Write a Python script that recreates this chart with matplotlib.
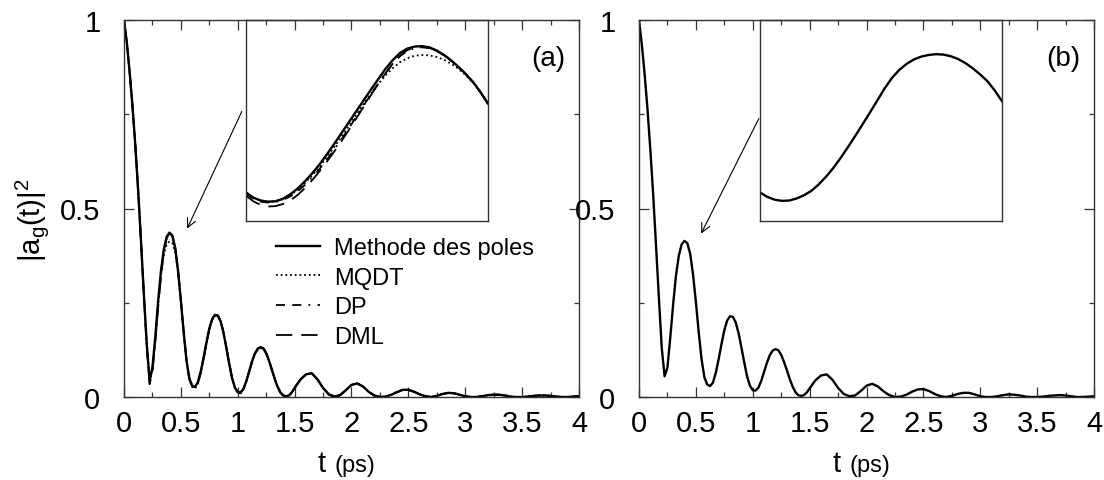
import numpy as np
import matplotlib
matplotlib.use('Agg')
import matplotlib.pyplot as plt
from matplotlib.ticker import MultipleLocator, FixedLocator, FixedFormatter

plt.rcParams['font.family'] = ['Liberation Sans', 'DejaVu Sans']
plt.rcParams['mathtext.default'] = 'regular'

# time grids (ps)
T_HEAD = np.round(np.arange(0, 1.5001, 0.025), 3)
T_TAIL = np.round(np.arange(1.55, 4.0001, 0.05), 3)
T_INSET = np.round(np.arange(0.19, 0.5201, 0.01), 3)

# panel (a), main curves, t <= 1.5
POLES_A_HEAD = [1.000, 0.940, 0.860, 0.770, 0.665, 0.545, 0.410, 0.270, 0.140, 0.044,
                0.078, 0.160, 0.255, 0.335, 0.392, 0.425, 0.436, 0.428, 0.395, 0.335,
                0.255, 0.170, 0.095, 0.048, 0.030, 0.027, 0.040, 0.068, 0.105, 0.145,
                0.182, 0.207, 0.218, 0.216, 0.200, 0.170, 0.130, 0.088, 0.050, 0.025,
                0.013, 0.012, 0.022, 0.042, 0.068, 0.094, 0.115, 0.128, 0.132, 0.129,
                0.116, 0.096, 0.072, 0.048, 0.027, 0.012, 0.004, 0.002, 0.004, 0.012,
                0.024]
MQDT_A_HEAD = [1.000, 0.940, 0.860, 0.770, 0.665, 0.545, 0.410, 0.270, 0.138, 0.036,
               0.072, 0.150, 0.243, 0.322, 0.377, 0.405, 0.413, 0.408, 0.385, 0.332,
               0.255, 0.170, 0.095, 0.046, 0.026, 0.022, 0.036, 0.064, 0.101, 0.141,
               0.178, 0.204, 0.215, 0.214, 0.199, 0.170, 0.130, 0.088, 0.050, 0.024,
               0.011, 0.010, 0.020, 0.040, 0.066, 0.092, 0.113, 0.126, 0.130, 0.128,
               0.116, 0.096, 0.072, 0.048, 0.027, 0.012, 0.004, 0.002, 0.004, 0.012,
               0.024]
DP_A_HEAD = [1.000, 0.940, 0.860, 0.770, 0.665, 0.545, 0.410, 0.270, 0.140, 0.040,
             0.072, 0.150, 0.242, 0.325, 0.386, 0.422, 0.434, 0.428, 0.396, 0.337,
             0.257, 0.172, 0.097, 0.048, 0.029, 0.026, 0.038, 0.066, 0.103, 0.143,
             0.180, 0.206, 0.218, 0.216, 0.201, 0.171, 0.131, 0.089, 0.051, 0.025,
             0.013, 0.012, 0.021, 0.041, 0.067, 0.093, 0.114, 0.127, 0.132, 0.129,
             0.117, 0.097, 0.073, 0.049, 0.028, 0.012, 0.004, 0.002, 0.004, 0.012,
             0.024]
DML_A_HEAD = [1.000, 0.940, 0.860, 0.770, 0.665, 0.545, 0.410, 0.270, 0.136, 0.034,
              0.066, 0.145, 0.238, 0.322, 0.384, 0.421, 0.435, 0.429, 0.397, 0.338,
              0.258, 0.173, 0.097, 0.047, 0.027, 0.024, 0.037, 0.065, 0.102, 0.143,
              0.180, 0.206, 0.218, 0.217, 0.201, 0.172, 0.132, 0.090, 0.051, 0.025,
              0.012, 0.011, 0.021, 0.041, 0.067, 0.093, 0.114, 0.127, 0.132, 0.129,
              0.117, 0.097, 0.073, 0.049, 0.028, 0.012, 0.004, 0.002, 0.004, 0.012,
              0.024]
# panel (a), t > 1.5 (all four methods coincide)
TAIL_A = [0.046, 0.060, 0.063, 0.047, 0.024, 0.007, 0.001, 0.005, 0.018, 0.032,
          0.036, 0.028, 0.014, 0.004, 0.000, 0.001, 0.006, 0.013, 0.019, 0.019,
          0.014, 0.007, 0.002, 0.000, 0.003, 0.008, 0.011, 0.010, 0.006, 0.002,
          0.000, 0.000, 0.002, 0.005, 0.006, 0.006, 0.004, 0.001, 0.000, 0.000,
          0.001, 0.003, 0.004, 0.004, 0.003, 0.001, 0.000, 0.000, 0.001, 0.002]

# panel (b), main curve
POLES_B_HEAD = [1.000, 0.935, 0.855, 0.762, 0.655, 0.535, 0.400, 0.262, 0.130, 0.055,
                0.078, 0.158, 0.245, 0.322, 0.375, 0.405, 0.414, 0.408, 0.380, 0.325,
                0.252, 0.172, 0.100, 0.052, 0.033, 0.029, 0.038, 0.064, 0.100, 0.140,
                0.177, 0.203, 0.214, 0.213, 0.198, 0.170, 0.132, 0.092, 0.055, 0.030,
                0.018, 0.017, 0.025, 0.043, 0.067, 0.091, 0.111, 0.123, 0.127, 0.124,
                0.112, 0.093, 0.071, 0.048, 0.028, 0.013, 0.005, 0.003, 0.005, 0.012,
                0.023]
TAIL_B = [0.044, 0.057, 0.060, 0.046, 0.024, 0.008, 0.002, 0.004, 0.016, 0.030,
          0.035, 0.028, 0.015, 0.005, 0.000, 0.001, 0.006, 0.014, 0.020, 0.021,
          0.016, 0.008, 0.002, 0.000, 0.003, 0.008, 0.011, 0.011, 0.007, 0.002,
          0.000, 0.000, 0.002, 0.005, 0.007, 0.006, 0.004, 0.001, 0.000, 0.000,
          0.001, 0.003, 0.004, 0.005, 0.004, 0.002, 0.000, 0.000, 0.001, 0.002]

# insets: zoom on the first peak
POLES_A_INSET = [0.071, 0.058, 0.051, 0.048, 0.049, 0.055, 0.066, 0.080, 0.098, 0.118,
                 0.140, 0.165, 0.191, 0.218, 0.245, 0.272, 0.299, 0.326, 0.352, 0.378,
                 0.400, 0.418, 0.429, 0.434, 0.435, 0.432, 0.424, 0.413, 0.399, 0.383,
                 0.365, 0.345, 0.320, 0.292]
MQDT_A_INSET = [0.071, 0.058, 0.051, 0.048, 0.049, 0.054, 0.064, 0.077, 0.094, 0.113,
                0.134, 0.158, 0.183, 0.209, 0.236, 0.263, 0.290, 0.316, 0.340, 0.362,
                0.380, 0.395, 0.405, 0.411, 0.413, 0.412, 0.408, 0.401, 0.391, 0.378,
                0.362, 0.343, 0.319, 0.291]
DP_A_INSET = [0.068, 0.055, 0.048, 0.046, 0.047, 0.052, 0.061, 0.073, 0.089, 0.108,
              0.129, 0.152, 0.177, 0.203, 0.230, 0.258, 0.286, 0.314, 0.341, 0.367,
              0.391, 0.410, 0.423, 0.430, 0.432, 0.430, 0.423, 0.412, 0.398, 0.382,
              0.364, 0.344, 0.320, 0.292]
DML_A_INSET = [0.063, 0.049, 0.040, 0.036, 0.037, 0.042, 0.051, 0.064, 0.081, 0.101,
               0.123, 0.147, 0.172, 0.198, 0.226, 0.254, 0.283, 0.312, 0.340, 0.367,
               0.391, 0.411, 0.425, 0.432, 0.434, 0.431, 0.424, 0.413, 0.399, 0.383,
               0.365, 0.345, 0.320, 0.292]
POLES_B_INSET = [0.071, 0.060, 0.053, 0.050, 0.051, 0.056, 0.064, 0.075, 0.091, 0.110,
                 0.132, 0.157, 0.184, 0.212, 0.241, 0.270, 0.300, 0.330, 0.356, 0.376,
                 0.391, 0.402, 0.409, 0.413, 0.415, 0.414, 0.410, 0.403, 0.393, 0.380,
                 0.365, 0.348, 0.325, 0.298]

LABELS = ['Methode des poles', 'MQDT', 'DP', 'DML']
STYLES = ['-', (0, (1, 1.6)), (0, (5, 4, 5, 4, 1, 4)), (0, (9, 5))]
WIDTHS = [1.7, 1.3, 1.3, 1.3]

SPINE = '#333333'


def style_main(ax):
    ax.set_xlim(0, 4)
    ax.set_ylim(0, 1)
    ax.xaxis.set_major_locator(FixedLocator([0, 0.5, 1, 1.5, 2, 2.5, 3, 3.5, 4]))
    ax.xaxis.set_major_formatter(FixedFormatter(['0', '0.5', '1', '1.5', '2', '2.5', '3', '3.5', '4']))
    ax.xaxis.set_minor_locator(MultipleLocator(0.25))
    ax.yaxis.set_major_locator(FixedLocator([0, 0.5, 1]))
    ax.yaxis.set_major_formatter(FixedFormatter(['0', '0.5', '1']))
    ax.yaxis.set_minor_locator(FixedLocator([0.25, 0.75]))
    ax.tick_params(which='both', direction='in', top=True, right=True,
                   color=SPINE, width=0.9, labelsize=21)
    ax.tick_params(which='major', length=7)
    ax.tick_params(which='minor', length=3.6)
    ax.tick_params(axis='x', pad=9)
    ax.tick_params(axis='y', pad=17)
    for s in ax.spines.values():
        s.set_color(SPINE)
        s.set_linewidth(1.0)
    # x label: big "t", smaller unit
    ax.text(0.444, -0.196, 't', transform=ax.transAxes, ha='right',
            va='baseline', fontsize=21)
    ax.text(0.462, -0.196, '(ps)', transform=ax.transAxes, ha='left',
            va='baseline', fontsize=17)


def style_inset(ax):
    ax.set_xlim(0.19, 0.52)
    ax.set_ylim(0, 0.5)
    ax.set_xticks([])
    ax.set_yticks([])
    ax.patch.set_alpha(0)
    for s in ax.spines.values():
        s.set_color(SPINE)
        s.set_linewidth(1.0)


fig = plt.figure(figsize=(11.04, 4.81), dpi=100)

W, H = 1104.0, 481.0
ax_a = fig.add_axes([124 / W, 83 / H, 455 / W, 377 / H])
ax_b = fig.add_axes([639 / W, 83 / H, 455 / W, 377 / H])
in_a = fig.add_axes([246 / W, 259 / H, 242 / W, 201 / H])
in_b = fig.add_axes([760 / W, 259 / H, 242 / W, 201 / H])

t_full = np.concatenate([T_HEAD, T_TAIL])

# panel (a)
heads_a = [POLES_A_HEAD, MQDT_A_HEAD, DP_A_HEAD, DML_A_HEAD]
insets_a = [POLES_A_INSET, MQDT_A_INSET, DP_A_INSET, DML_A_INSET]
for i in [3, 2, 1, 0]:
    ax_a.plot(t_full, heads_a[i] + TAIL_A, color='black', ls=STYLES[i],
              lw=WIDTHS[i], label=LABELS[i])
    in_a.plot(T_INSET, insets_a[i], color='black', ls=STYLES[i], lw=WIDTHS[i])

handles, labels = ax_a.get_legend_handles_labels()
order = [labels.index(l) for l in LABELS]
ax_a.legend([handles[k] for k in order], LABELS, loc='upper left',
            bbox_to_anchor=(0.335, 0.425), frameon=False, fontsize=17,
            handlelength=1.85, handletextpad=0.6, labelspacing=0.33,
            borderpad=0, borderaxespad=0)

# panel (b)
ax_b.plot(t_full, POLES_B_HEAD + TAIL_B, color='black', lw=1.7)
in_b.plot(T_INSET, POLES_B_INSET, color='black', lw=1.7)

for ax in [ax_a, ax_b]:
    style_main(ax)
for ax in [in_a, in_b]:
    style_inset(ax)

ax_a.annotate('', xy=(0.545, 0.44), xytext=(1.046, 0.764),
              arrowprops=dict(arrowstyle='->', lw=0.8, color='black', mutation_scale=16))
ax_b.annotate('', xy=(0.536, 0.427), xytext=(1.064, 0.745),
              arrowprops=dict(arrowstyle='->', lw=0.8, color='black', mutation_scale=16))

ax_a.text(0.932, 0.9, '(a)', transform=ax_a.transAxes, ha='center', va='center', fontsize=20)
ax_b.text(0.932, 0.9, '(b)', transform=ax_b.transAxes, ha='center', va='center', fontsize=20)

fig.text(32 / W, 1 - 220 / H, r'|a$_{g}$(t)|$^{2}$', rotation=90,
         ha='center', va='center', fontsize=21)

fig.savefig('out.png', dpi=100)
